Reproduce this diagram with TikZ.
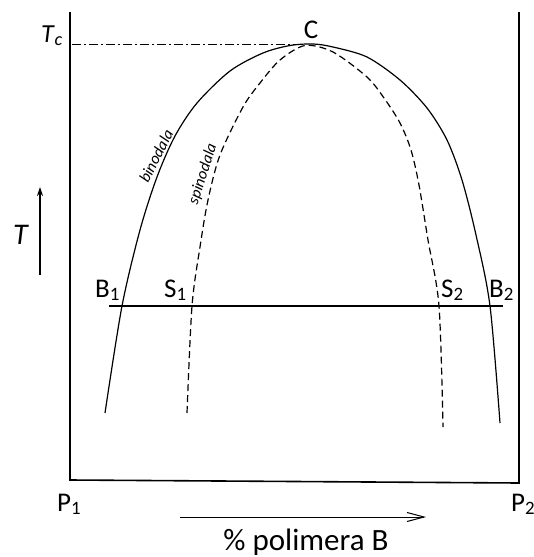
\documentclass[tikz,border=0pt]{standalone}
\usepackage{fontspec}
\setmainfont{Carlito}
\usetikzlibrary{arrows.meta}

\begin{document}
\begin{tikzpicture}[x=1pt,y=-1pt,
  lbl/.style={inner sep=0pt,font=\fontsize{27}{30}\selectfont},
  curvename/.style={inner sep=0pt,font=\fontsize{16}{18}\selectfont\itshape},
  curveline/.style={line width=1.2pt}]
\useasboundingbox (0,0) rectangle (533,557);

\draw[-, line width=1.6pt] (70,12) -- (70,480) -- (519,483) -- (519,12);

\coordinate (tcl) at (72,44);
\coordinate (tcr) at (300,44);
\draw[-, line width=1pt, dash pattern=on 9pt off 3pt on 2pt off 3pt] (tcl) -- (tcr);

% binodala
\draw[curveline] plot[smooth, tension=0.5] coordinates {(105,413) (122,306) (140,230) (157,177) (175,136) (197,103) (230,71) (263,53) (290,45.5) (313,44) (333,47) (367,57) (400,80) (427,108) (447,140) (462,180) (476,235) (490,306) (500,423)};
% spinodala
\draw[curveline, dash pattern=on 7pt off 4pt] plot[smooth, tension=0.5] coordinates {(187,413) (192,306) (200,247) (208,200) (220,155) (243,107) (260,83) (280,60) (305,45.5) (333,52) (367,77) (384,98) (400,123) (411,150) (419,185) (428,240) (439,306) (443,427)};

\coordinate (tl) at (109,306);
\coordinate (tr) at (503,306);
\draw[-, line width=1.1pt] (tl) -- (tr);

\node[lbl, anchor=base east, font=\fontsize{26}{30}\selectfont] (Tc) at (63,42) {\textit{T}\textsubscript{\textit{c}}};
\node[lbl, anchor=base] (C) at (311,38) {C};
\node[lbl, anchor=base west] (B1) at (95,297) {B\textsubscript{1}};
\node[lbl, anchor=base west] (S1) at (164,297) {S\textsubscript{1}};
\node[lbl, anchor=base west] (S2) at (441,297) {S\textsubscript{2}};
\node[lbl, anchor=base west] (B2) at (489,297) {B\textsubscript{2}};
\node[lbl, anchor=base west, font=\fontsize{30}{32}\selectfont\itshape] (T) at (13,244) {T};
\node[lbl, anchor=base west] (P1) at (57,511) {P\textsubscript{1}};
\node[lbl, anchor=base west] (P2) at (511,511) {P\textsubscript{2}};
\node[lbl, anchor=base, font=\fontsize{31}{34}\selectfont] (polB) at (306,550) {\% polimera B};

\node[curvename, rotate=63] (bin) at (156,156) {binodala};
\node[curvename, rotate=72] (spin) at (203,174) {spinodala};

\coordinate (ta) at (40,275);
\coordinate (tb) at (40,187);
\draw[-{Stealth[length=9pt,width=6pt]}, line width=1.2pt] (ta) -- (tb);
\coordinate (pa) at (180,517);
\coordinate (pb) at (426,517);
\draw[-{Straight Barb[length=17pt,width=9pt]}, line width=1pt] (pa) -- (pb);
\end{tikzpicture}
\end{document}
